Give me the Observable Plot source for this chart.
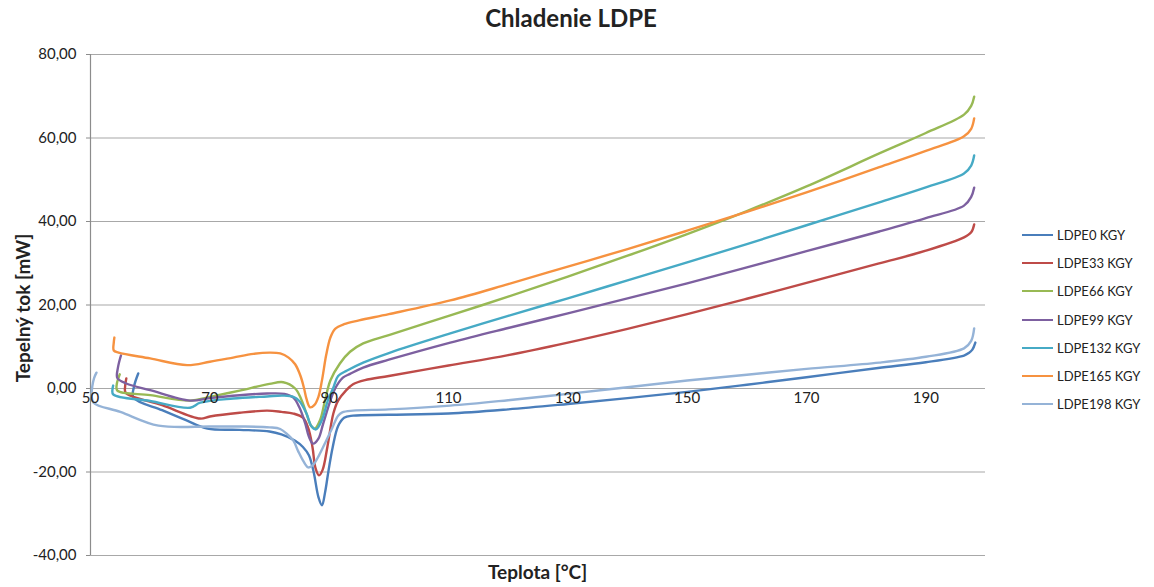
<!DOCTYPE html>
<html>
<head>
<meta charset="utf-8">
<script src="https://cdn.jsdelivr.net/npm/d3@7"></script>
<script src="https://cdn.jsdelivr.net/npm/@observablehq/plot@0.6"></script>
<style>
  html, body { margin: 0; padding: 0; background: #fff; }
  #wrap { position: relative; width: 1154px; height: 587px; font-family: Lato, "Open Sans", sans-serif; color: #222; }
  #chart { position: absolute; left: 0; top: 0; }
  .title { position: absolute; left: 0; width: 1154px; top: 3px; text-align: center; font-weight: bold; font-size: 24px; margin-left: -6px; }
  .xlabel { position: absolute; left: 90px; width: 895px; top: 560px; text-align: center; font-weight: bold; font-size: 19px; }
  .ylabel { position: absolute; left: 22px; top: 308px; transform: translate(-50%, -50%) rotate(-90deg); white-space: nowrap; font-weight: bold; font-size: 19px; }
  .legend { position: absolute; left: 1022px; top: 0; }
  .legend .row { position: absolute; left: 0; height: 16px; white-space: nowrap; font-size: 13px; line-height: 16px; }
  .legend .sw { position: absolute; left: 0; top: 7px; width: 31px; height: 2px; }
  .legend .tx { position: absolute; left: 35px; top: 0; }
</style>
</head>
<body>
<div id="wrap">
  <div id="chart"></div>
  <div class="title">Chladenie LDPE</div>
  <div class="xlabel">Teplota [°C]</div>
  <div class="ylabel">Tepelný tok [mW]</div>
  <div class="legend" id="legend"></div>
</div>
<script>
const xTicks = [50, 70, 90, 110, 130, 150, 170, 190];
const yTicks = [-40, -20, 0, 20, 40, 60, 80];
const seriesNames = ["LDPE0 KGY", "LDPE33 KGY", "LDPE66 KGY", "LDPE99 KGY", "LDPE132 KGY", "LDPE165 KGY", "LDPE198 KGY"];
const seriesColors = ["#4A7EBB", "#BE4B48", "#98B954", "#7D60A0", "#46AAC5", "#F69240", "#95B3D7"];

// [temperature °C, heat flow mW], in cooling order (from 198 °C down)
const ldpe0 = [[198.3,11.0],[197.8,9.3],[197.2,8.5],[196.4,7.9],[190,6.3],[182,4.9],[170,2.7],[160,0.9],[150,-0.8],[140,-2.3],[130,-3.7],[120,-5.0],[110,-6.0],[100,-6.3],[94,-6.5],[92.5,-7.0],[91.5,-9.0],[90.6,-14],[89.9,-19.6],[89.3,-25],[88.8,-28],[88.2,-26],[87.4,-20],[86.6,-16],[85.6,-14],[84.3,-12.5],[82,-11],[80,-10.3],[75,-9.9],[69.6,-9.6],[66,-7.6],[62,-5.2],[57.2,-2.2],[57.3,0.5],[58,3.6]];
const ldpe33 = [[198.1,39.3],[197.6,37.4],[196.4,36.2],[190,33.0],[182,29.9],[170,25.3],[160,21.5],[150,17.8],[140,14.3],[130,11],[120,8],[110,5.5],[100,3],[96,2],[94,1.0],[92.8,-0.5],[91.5,-2.9],[90.7,-6],[89.7,-14],[88.9,-19.5],[88.3,-20.8],[87.7,-19],[87.2,-14],[86.5,-9.5],[85.6,-7],[84,-6],[82,-5.6],[79.6,-5.3],[75,-5.8],[70,-6.7],[68.4,-7.2],[62,-4],[55.9,-1],[55.8,0.5],[56,2.4]];
const ldpe66 = [[198.1,69.9],[197.6,67.7],[196.4,65.6],[190,61.2],[182.2,56.3],[170,48.4],[160,42.5],[150,37.0],[140,31.8],[130,26.8],[120,22.0],[110.3,17.5],[100,12.8],[95.7,10.8],[93.5,8.8],[91.8,6],[90.2,1.9],[89.3,-2.9],[88.5,-7.5],[87.6,-9.6],[87,-9],[86.2,-6],[85.3,-2.5],[84.3,0],[82.3,1.5],[80,1.1],[75,-0.5],[70,-2],[66.7,-2.9],[60,-1.6],[54.5,-0.5],[54.4,1],[54.9,3.4]];
const ldpe99 = [[198.1,48.1],[197.6,45.9],[196.4,43.8],[190,40.8],[182.2,37.6],[170,32.9],[160,29.0],[150,25.2],[140,21.6],[130,18.0],[120,14.5],[110.3,11],[100,6.9],[95.7,5.0],[93.5,3.5],[92.3,2.6],[91,0],[90.2,-2.9],[89,-8.4],[88.2,-12],[87.3,-13.2],[86.6,-11.5],[86,-8.4],[85,-4.5],[84,-2.2],[82.5,-1.3],[79.6,-1.2],[75,-1.6],[70,-2.3],[66.7,-2.9],[60,-0.4],[56,1.2],[54.5,2.5],[54.6,5],[55.1,7.9]];
const ldpe132 = [[198.1,55.8],[197.6,53.4],[196.4,51.5],[190,48.2],[182.2,44.6],[170,39.1],[160,34.6],[150,30.2],[140,25.9],[130,21.6],[120,17.4],[110.3,13.2],[100,8.5],[95.7,6.2],[93,4.3],[91.5,3.0],[90.7,0.2],[89.8,-2.8],[88.8,-7.5],[87.8,-9.8],[87,-9],[86.2,-6],[85,-3],[84,-2],[82.3,-1.7],[79.6,-1.9],[73.9,-2.4],[68.4,-3.4],[66.7,-4.6],[60,-3],[53.8,-1.4],[53.7,0],[53.8,0.7]];
const ldpe165 = [[198.1,64.7],[197.6,62.2],[196.4,60.4],[190,56.9],[182.2,53.0],[170,47.0],[160,42.3],[150,37.8],[140,33.4],[130,29.2],[120,25],[110.3,21.1],[100,17.8],[95,16.3],[92.5,15.4],[91,14.3],[90.2,12.2],[89.5,8],[88.8,2],[88.2,-2],[87.5,-4],[86.8,-4.5],[86.2,-2.5],[85.8,0],[85.2,3],[84.3,5.8],[83.2,7.4],[81.8,8.4],[80,8.6],[77.3,8.3],[73.9,7.4],[70,6.4],[66.2,5.6],[60,7.2],[54.7,8.6],[53.9,9.1],[53.9,11],[54,12.2]];
const ldpe198 = [[198.1,14.4],[197.6,11.4],[196.4,9.6],[190,7.6],[182.2,6.2],[170,4.7],[160,3.3],[150,1.9],[140,0.3],[130,-1.3],[120,-2.8],[110.3,-4.1],[100,-5.0],[94,-5.3],[92.2,-5.7],[91.5,-6.5],[90.5,-9.5],[89.5,-12.5],[88.3,-16],[87.3,-18.3],[86.5,-18.9],[85.6,-17.2],[84.8,-15],[84,-12.5],[83,-11],[81.8,-9.7],[80,-9.3],[75,-9.1],[70,-9.1],[61.4,-8.9],[55,-5.6],[50.5,-3.4],[50.2,-1.5],[50.3,0.5],[50.6,2.5],[51,3.8]];

const seriesData = [ldpe0, ldpe33, ldpe66, ldpe99, ldpe132, ldpe165, ldpe198];
const rows = seriesData.flatMap((pts, k) => pts.map(([T, P]) => ({T, P, series: seriesNames[k]})));

const fmt = d => d.toFixed(2).replace(".", ",");

const chart = Plot.plot({
  width: 1154,
  height: 587,
  marginLeft: 90,
  marginRight: 169,
  marginTop: 54,
  marginBottom: 32,
  style: { fontFamily: "Lato, 'Open Sans', sans-serif", color: "#222", background: "#fff" },
  x: { domain: [50, 200], axis: null },
  y: { domain: [-40, 80], axis: null },
  color: { domain: seriesNames, range: seriesColors },
  marks: [
    Plot.gridY(yTicks, { stroke: "#a8a8a8", strokeOpacity: 1, strokeWidth: 1.2 }),
    Plot.ruleX([50], { stroke: "#8c8c8c", strokeWidth: 1.2 }),
    Plot.axisY(yTicks, { tickFormat: fmt, tickSize: 4, tickPadding: 10, fontSize: 15, stroke: "#8c8c8c", label: null }),
    Plot.line(rows, { x: "T", y: "P", z: "series", stroke: "series", strokeWidth: 2.4, curve: "catmull-rom" }),
    Plot.text(xTicks, { x: d => d, y: 0, dy: 10, text: d => String(d), fontSize: 15, fill: "#222" })
  ]
});
document.getElementById("chart").appendChild(chart);

const legend = document.getElementById("legend");
seriesNames.forEach((name, i) => {
  const row = document.createElement("div");
  row.className = "row";
  row.style.top = Math.round(227 + i * 28.2) + "px";
  const sw = document.createElement("span");
  sw.className = "sw";
  sw.style.background = seriesColors[i];
  const tx = document.createElement("span");
  tx.className = "tx";
  tx.textContent = name;
  row.appendChild(sw);
  row.appendChild(tx);
  legend.appendChild(row);
});
</script>
</body>
</html>
